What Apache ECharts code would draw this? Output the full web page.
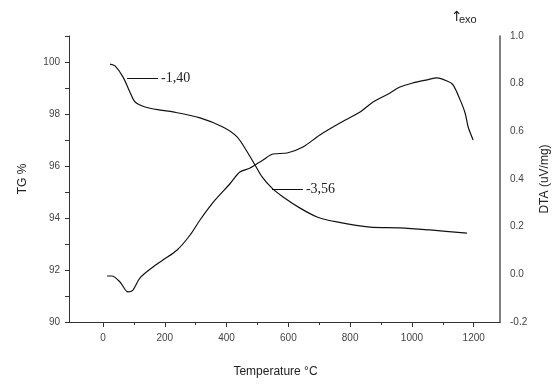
<!DOCTYPE html>
<html>
<head>
<meta charset="utf-8">
<script src="https://cdn.jsdelivr.net/npm/echarts@6/dist/echarts.min.js"></script>
<style>html,body{margin:0;padding:0;background:#fff}#c{width:560px;height:387px}</style>
</head>
<body>
<div id="c"></div>
<script>
// TG curve (left axis, %)
var tgTemp = [23, 39, 65, 87, 104, 136, 185, 227, 314, 388, 434, 469, 492, 515, 547, 583, 638, 693, 757, 864, 961, 1058, 1178];
var tgValues = [99.92, 99.85, 99.42, 98.85, 98.46, 98.27, 98.15, 98.08, 97.85, 97.5, 97.12, 96.5, 96.04, 95.58, 95.15, 94.81, 94.38, 94.04, 93.85, 93.65, 93.62, 93.54, 93.42];
// DTA curve (right axis, uV/mg)
var dtaTemp = [13, 29, 55, 81, 97, 120, 162, 194, 240, 282, 314, 363, 411, 443, 476, 518, 550, 596, 647, 702, 767, 832, 874, 929, 961, 1003, 1049, 1081, 1114, 1133, 1156, 1172, 1182, 1198];
var dtaValues = [-0.007, -0.007, -0.032, -0.074, -0.066, -0.015, 0.031, 0.060, 0.102, 0.165, 0.228, 0.312, 0.38, 0.429, 0.446, 0.480, 0.505, 0.509, 0.534, 0.585, 0.635, 0.681, 0.723, 0.761, 0.786, 0.803, 0.816, 0.824, 0.811, 0.795, 0.732, 0.677, 0.618, 0.564];
// Axis ticks
var xLabelValues = [0, 200, 400, 600, 800, 1000, 1200];
var xMinorValues = [100, 300, 500, 700, 900, 1100];
// Mass-loss annotations: [T start, TG, T end, text]
var annoStartT = [78, 547];
var annoTG = [99.38, 95.12];
var annoEndT = [178, 647];
var annoText = ['-1,40', '-3,56'];

var chart = echarts.init(document.getElementById('c'), null, {renderer: 'canvas'});
var axisColor = '#333';
var labelFont = {fontFamily: 'Liberation Sans, Arial, sans-serif', fontSize: 10, color: '#444'};

var markData = annoStartT.map(function (t, i) {
  return [{coord: [t, annoTG[i]]}, {coord: [annoEndT[i], annoTG[i]], label: {formatter: annoText[i]}}];
});

chart.setOption({
  animation: false,
  backgroundColor: '#fff',
  grid: {left: 69, right: 60, top: 36, bottom: 65, containLabel: false},
  xAxis: [{
    type: 'value', min: -110, max: 1285, position: 'bottom',
    name: 'Temperature °C', nameLocation: 'middle', nameGap: 44,
    nameTextStyle: {fontFamily: 'Liberation Sans, Arial, sans-serif', fontSize: 12, color: '#222', padding: [0, 18, 0, 0]},
    axisLine: {onZero: false, lineStyle: {color: axisColor, width: 1}},
    axisTick: {show: true, length: 5, customValues: xLabelValues, lineStyle: {color: axisColor}},
    axisLabel: Object.assign({customValues: xLabelValues, margin: 11, formatter: function (v) { return String(v); }}, labelFont),
    splitLine: {show: false}
  }, {
    type: 'value', min: -110, max: 1285, position: 'bottom',
    axisLine: {show: true, onZero: false, lineStyle: {color: axisColor, width: 1}},
    axisTick: {show: true, length: 3, customValues: xMinorValues, lineStyle: {color: axisColor}},
    axisLabel: {show: false},
    splitLine: {show: false}
  }],
  yAxis: [{
    type: 'value', min: 90, max: 101, interval: 1, position: 'left',
    name: 'TG %', nameLocation: 'middle', nameGap: 40,
    nameTextStyle: {fontFamily: 'Liberation Sans, Arial, sans-serif', fontSize: 12, color: '#222'},
    axisLine: {show: true, onZero: false, lineStyle: {color: axisColor, width: 1}},
    axisTick: {show: true, length: 4, lineStyle: {color: axisColor}},
    axisLabel: Object.assign({margin: 9, formatter: function (v) { return (v % 2 === 0 && v <= 100) ? String(v) : ''; }}, labelFont),
    splitLine: {show: false}
  }, {
    type: 'value', min: -0.2, max: 1.0, interval: 0.2, position: 'right',
    name: 'DTA (uV/mg)', nameLocation: 'middle', nameGap: 39,
    nameTextStyle: {fontFamily: 'Liberation Sans, Arial, sans-serif', fontSize: 12, color: '#222'},
    axisLine: {show: true, onZero: false, lineStyle: {color: '#555', width: 1.5}},
    axisTick: {show: false},
    axisLabel: Object.assign({margin: 10, formatter: function (v) { return v.toFixed(1); }}, labelFont),
    splitLine: {show: false}
  }],
  series: [{
    type: 'line', name: 'TG', xAxisIndex: 0, yAxisIndex: 0,
    data: tgTemp.map(function (t, i) { return [t, tgValues[i]]; }),
    showSymbol: false, smooth: 0.3,
    lineStyle: {color: '#111', width: 1.2},
    markLine: {
      silent: true, symbol: ['none', 'none'],
      lineStyle: {color: '#111', width: 1, type: 'solid'},
      label: {show: true, position: 'end', distance: 3, fontFamily: 'Liberation Serif, Times New Roman, serif', fontSize: 14, color: '#222'},
      data: markData
    }
  }, {
    type: 'line', name: 'DTA', xAxisIndex: 0, yAxisIndex: 1,
    data: dtaTemp.map(function (t, i) { return [t, dtaValues[i]]; }),
    showSymbol: false, smooth: 0.3,
    lineStyle: {color: '#111', width: 1.2}
  }],
  graphic: [{
    type: 'text', left: 451, top: 10,
    style: {text: '↑', font: '14px "DejaVu Sans", sans-serif', fill: '#222'}
  }, {
    type: 'text', left: 459, top: 14,
    style: {text: 'exo', font: '11px "Liberation Sans", Arial, sans-serif', fill: '#222'}
  }]
});
</script>
</body>
</html>
